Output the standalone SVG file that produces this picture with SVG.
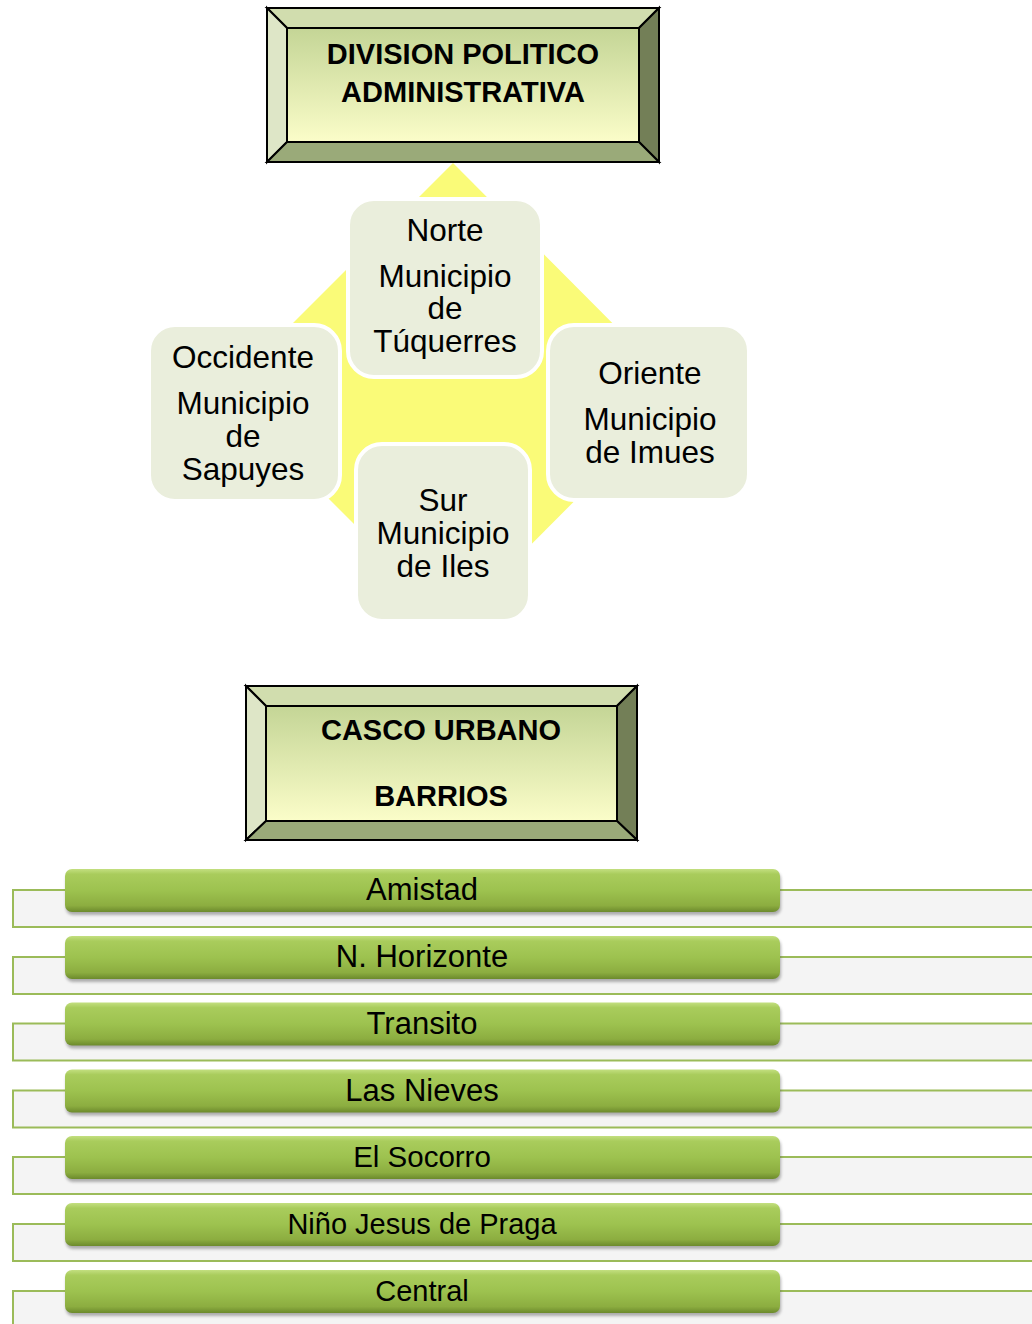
<svg xmlns="http://www.w3.org/2000/svg" width="1032" height="1324" viewBox="0 0 1032 1324">
<style>
.bt{font-family:"Liberation Sans",Arial,sans-serif;font-weight:bold;font-size:29px;fill:#000;text-anchor:middle}
.nt{font-family:"Liberation Sans",Arial,sans-serif;font-size:31.5px;fill:#000;text-anchor:middle}
.lt{font-family:"Liberation Sans",Arial,sans-serif;fill:#000;text-anchor:middle}
.bev{stroke:#000;stroke-width:2;stroke-linejoin:miter}
.node{fill:#eaeedc;stroke:#fff;stroke-width:4}
.bg{fill:#f4f4f4;stroke:#9bbb59;stroke-width:2}
.bar{fill:url(#barG)}
</style>
<defs>
<linearGradient id="innerG" x1="0" y1="0" x2="0" y2="1">
<stop offset="0" stop-color="#c4d596"/>
<stop offset="1" stop-color="#fbfdc9"/>
</linearGradient>
<linearGradient id="barG" x1="0" y1="0" x2="0" y2="1">
<stop offset="0" stop-color="#c3df80"/>
<stop offset="0.12" stop-color="#a9cc5c"/>
<stop offset="0.5" stop-color="#9dc24f"/>
<stop offset="0.85" stop-color="#8cad40"/>
<stop offset="1" stop-color="#6c8a2c"/>
</linearGradient>
<filter id="sh" x="-5%" y="-20%" width="110%" height="160%">
<feGaussianBlur stdDeviation="1.5"/>
</filter>
</defs>

<g id="title-division">
<polygon class="bev" points="267,8 659,8 639,28 287,28" fill="#d1ddae"/>
<polygon class="bev" points="267,8 287,28 287,142 267,162" fill="#dee6c7"/>
<polygon class="bev" points="659,8 659,162 639,142 639,28" fill="#737f57"/>
<polygon class="bev" points="267,162 287,142 639,142 659,162" fill="#9aaa79"/>
<rect class="bev" x="287" y="28" width="352" height="114" fill="url(#innerG)"/>
<text class="bt" x="463" y="64">DIVISION POLITICO</text>
<text class="bt" x="463" y="102">ADMINISTRATIVA</text>
</g>

<g id="background-diamond">
<polygon points="453,163 682,393 453,623 223,393" fill="#fafb78"/>
</g>

<g id="node-norte">
<rect class="node" x="348" y="199" width="194" height="178" rx="26"/>
<text class="nt" x="445" y="241">Norte</text>
<text class="nt" x="445" y="287">Municipio</text>
<text class="nt" x="445" y="319">de</text>
<text class="nt" x="445" y="352">Túquerres</text>
</g>

<g id="node-occidente">
<rect class="node" x="149" y="325" width="191" height="176" rx="26"/>
<text class="nt" x="243" y="368">Occidente</text>
<text class="nt" x="243" y="414">Municipio</text>
<text class="nt" x="243" y="447">de</text>
<text class="nt" x="243" y="480">Sapuyes</text>
</g>

<g id="node-oriente">
<rect class="node" x="548" y="325" width="201" height="175" rx="26"/>
<text class="nt" x="650" y="384">Oriente</text>
<text class="nt" x="650" y="430">Municipio</text>
<text class="nt" x="650" y="463">de Imues</text>
</g>

<g id="node-sur">
<rect class="node" x="356" y="444" width="174" height="177" rx="26"/>
<text class="nt" x="443" y="511">Sur</text>
<text class="nt" x="443" y="544">Municipio</text>
<text class="nt" x="443" y="577">de Iles</text>
</g>

<g id="title-casco">
<polygon class="bev" points="246,686 637,686 617,706 266,706" fill="#d1ddae"/>
<polygon class="bev" points="246,686 266,706 266,821 246,840" fill="#dee6c7"/>
<polygon class="bev" points="637,686 637,840 617,821 617,706" fill="#737f57"/>
<polygon class="bev" points="246,840 266,821 617,821 637,840" fill="#9aaa79"/>
<rect class="bev" x="266" y="706" width="351" height="115" fill="url(#innerG)"/>
<text class="bt" x="441" y="740">CASCO URBANO</text>
<text class="bt" x="441" y="806">BARRIOS</text>
</g>

<g id="barrio-amistad">
<rect class="bg" x="13" y="890" width="1030" height="37"/>
<rect x="66" y="872" width="715" height="43" rx="7" fill="#555" opacity="0.45" filter="url(#sh)"/>
<rect class="bar" x="65" y="869" width="715" height="43" rx="7"/>
<text class="lt" x="422" y="900" font-size="31">Amistad</text>
</g>

<g id="barrio-horizonte">
<rect class="bg" x="13" y="957" width="1030" height="37"/>
<rect x="66" y="939" width="715" height="43" rx="7" fill="#555" opacity="0.45" filter="url(#sh)"/>
<rect class="bar" x="65" y="936" width="715" height="43" rx="7"/>
<text class="lt" x="422" y="967" font-size="31">N. Horizonte</text>
</g>

<g id="barrio-transito">
<rect class="bg" x="13" y="1023.5" width="1030" height="37"/>
<rect x="66" y="1005.5" width="715" height="43" rx="7" fill="#555" opacity="0.45" filter="url(#sh)"/>
<rect class="bar" x="65" y="1002.5" width="715" height="43" rx="7"/>
<text class="lt" x="422" y="1034" font-size="31">Transito</text>
</g>

<g id="barrio-nieves">
<rect class="bg" x="13" y="1090.5" width="1030" height="37"/>
<rect x="66" y="1072.5" width="715" height="43" rx="7" fill="#555" opacity="0.45" filter="url(#sh)"/>
<rect class="bar" x="65" y="1069.5" width="715" height="43" rx="7"/>
<text class="lt" x="422" y="1101" font-size="31">Las Nieves</text>
</g>

<g id="barrio-socorro">
<rect class="bg" x="13" y="1157" width="1030" height="37"/>
<rect x="66" y="1139" width="715" height="43" rx="7" fill="#555" opacity="0.45" filter="url(#sh)"/>
<rect class="bar" x="65" y="1136" width="715" height="43" rx="7"/>
<text class="lt" x="422" y="1166.5" font-size="29.5">El Socorro</text>
</g>

<g id="barrio-nino">
<rect class="bg" x="13" y="1224" width="1030" height="37"/>
<rect x="66" y="1206" width="715" height="43" rx="7" fill="#555" opacity="0.45" filter="url(#sh)"/>
<rect class="bar" x="65" y="1203" width="715" height="43" rx="7"/>
<text class="lt" x="422" y="1233.5" font-size="29">Niño Jesus de Praga</text>
</g>

<g id="barrio-central">
<rect class="bg" x="13" y="1291" width="1030" height="40"/>
<rect x="66" y="1273" width="715" height="43" rx="7" fill="#555" opacity="0.45" filter="url(#sh)"/>
<rect class="bar" x="65" y="1270" width="715" height="43" rx="7"/>
<text class="lt" x="422" y="1300.5" font-size="29">Central</text>
</g>
</svg>
